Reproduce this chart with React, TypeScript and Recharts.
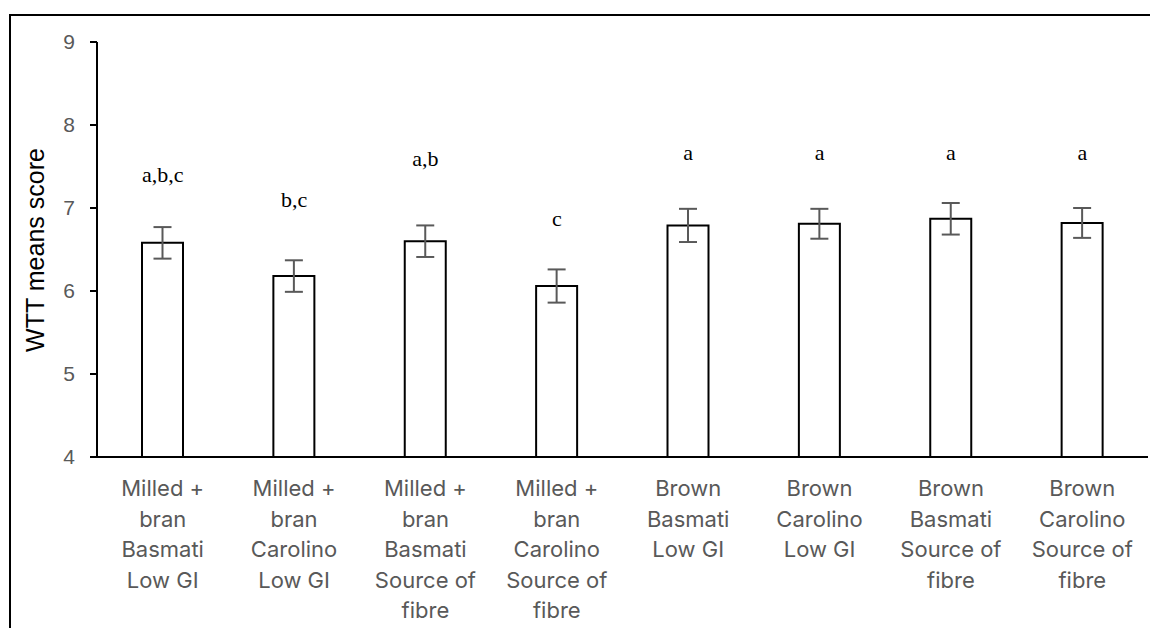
import { ComposedChart, Bar, Line, XAxis, YAxis, ErrorBar, LabelList, Label } from 'recharts'

const categories = [
  'Milled +\nbran\nBasmati\nLow GI',
  'Milled +\nbran\nCarolino\nLow GI',
  'Milled +\nbran\nBasmati\nSource of\nfibre',
  'Milled +\nbran\nCarolino\nSource of\nfibre',
  'Brown\nBasmati\nLow GI',
  'Brown\nCarolino\nLow GI',
  'Brown\nBasmati\nSource of\nfibre',
  'Brown\nCarolino\nSource of\nfibre',
]
const means = [6.58, 6.18, 6.6, 6.06, 6.79, 6.81, 6.87, 6.82]
const errors = [0.19, 0.19, 0.19, 0.2, 0.2, 0.18, 0.19, 0.18]
const letters = ['a,b,c', 'b,c', 'a,b', 'c', 'a', 'a', 'a', 'a']
// where each letter sits (baseline), in score units
const letterPos = [7.31, 7.01, 7.51, 6.78, 7.58, 7.58, 7.58, 7.58]
const yTicks = [4, 5, 6, 7, 8, 9]

const data = categories.map((c, i) => ({
  name: c,
  mean: means[i],
  err: errors[i],
  letter: letters[i],
  letterPos: letterPos[i],
}))

const grey = '#595959'

function CatTick(props: any) {
  const { x, y, payload } = props
  const lines = String(payload.value).split('\n')
  return (
    <text x={x} y={y} textAnchor="middle" fill={grey} fontSize={22} fontFamily="Inter, 'Open Sans', sans-serif">
      {lines.map((l, i) => (
        <tspan key={i} x={x} dy={i === 0 ? 39 : 30.5}>{l}</tspan>
      ))}
    </text>
  )
}

function LetterLabel(props: any) {
  const { x, y, value } = props
  return (
    <text x={x} y={y} textAnchor="middle" fill="#000" fontSize={22} fontFamily="'Liberation Serif', 'Times New Roman', serif">
      {value}
    </text>
  )
}

export default function App() {
  return (
    <div style={{ position: 'fixed', left: 0, top: 0, width: 1150, height: 628, background: '#fff', overflow: 'hidden' }}>
      <div style={{ position: 'absolute', left: 9, top: 14, width: 1300, height: 800, borderLeft: '2px solid #000', borderTop: '2px solid #000' }} />
      <div style={{ position: 'absolute', left: 0, top: 0 }}>
        <ComposedChart width={1150} height={628} data={data} margin={{ top: 42, right: 2, bottom: 141, left: 0 }}>
          <XAxis
            dataKey="name"
            height={30}
            tickLine={false}
            axisLine={{ stroke: '#000', strokeWidth: 2 }}
            tick={<CatTick />}
            interval={0}
            tickMargin={0}
            tickSize={0}
          />
          <YAxis
            domain={[4, 9]}
            ticks={yTicks}
            width={97}
            tickSize={7}
            tickMargin={15}
            axisLine={{ stroke: '#000', strokeWidth: 2 }}
            tickLine={{ stroke: '#000', strokeWidth: 2 }}
            tick={{ fill: grey, fontSize: 21, fontFamily: "'Liberation Sans', Arial, sans-serif" }}
            allowDataOverflow
          >
            <Label
              content={() => (
                <text x={44} y={250} transform="rotate(-90 44 250)" textAnchor="middle" fill="#000" fontSize={25} fontFamily="'Liberation Sans', Arial, sans-serif">
                  WTT means score
                </text>
              )}
            />
          </YAxis>
          <Bar dataKey="mean" fill="#fff" stroke="#000" strokeWidth={2} barSize={41} isAnimationActive={false}>
            <ErrorBar dataKey="err" width={9} stroke={grey} strokeWidth={2} />
          </Bar>
          <Line dataKey="letterPos" stroke="none" dot={false} activeDot={false} isAnimationActive={false}>
            <LabelList dataKey="letter" content={<LetterLabel />} />
          </Line>
        </ComposedChart>
      </div>
    </div>
  )
}
